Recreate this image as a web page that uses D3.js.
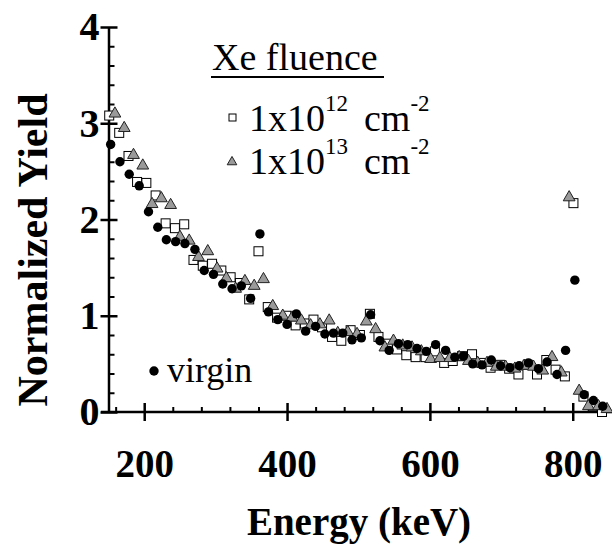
<!DOCTYPE html>
<html>
<head>
<meta charset="utf-8">
<script src="https://cdn.jsdelivr.net/npm/d3@7"></script>
<style>
  body { margin: 0; background: #fff; }
  svg { display: block; }
</style>
</head>
<body>
<div id="chart"></div>
<script>
// energies (keV) and normalized yields
var virginE = [153,166,179,193,206,219,231,244,257,271,284,297,310,323,336,349,362,374,387,400,413,426,440,453,465,478,491,504,517,530,543,556,569,582,595,608,622,635,647,660,673,686,699,712,725,738,752,764,778,790,803,816,829,842];
var virginY = [2.78,2.60,2.47,2.35,2.08,1.92,1.79,1.77,1.75,1.69,1.47,1.43,1.33,1.28,1.31,1.18,1.85,1.04,0.96,0.91,1.02,0.84,0.89,0.81,0.82,0.82,0.75,0.77,1.01,0.74,0.64,0.71,0.70,0.66,0.63,0.70,0.64,0.57,0.58,0.50,0.49,0.54,0.48,0.46,0.48,0.51,0.45,0.52,0.39,0.64,1.37,0.18,0.12,0.06];

var e12E = [151,165,178,190,203,216,230,243,256,269,282,295,308,321,334,347,360,373,386,399,412,425,437,449,463,476,489,502,516,528,541,554,567,580,594,607,620,632,645,659,672,685,698,711,724,737,750,763,776,789,801,815,828,841];
var e12Y = [3.08,2.90,2.66,2.39,2.38,2.25,1.96,1.91,1.95,1.58,1.52,1.54,1.47,1.40,1.34,1.17,1.67,1.09,0.98,1.00,0.90,0.92,0.96,0.88,0.78,0.74,0.85,0.80,1.02,0.78,0.71,0.65,0.59,0.57,0.57,0.63,0.51,0.53,0.58,0.60,0.51,0.46,0.49,0.45,0.39,0.49,0.39,0.54,0.44,0.37,2.17,0.16,0.06,0.00];

var e13E = [159,172,185,198,211,224,237,250,263,276,289,302,315,328,341,354,367,380,394,407,420,433,446,459,471,485,498,511,524,537,549,562,575,588,601,614,628,641,654,667,680,693,706,719,732,745,758,771,784,795,809,822,836,848];
var e13Y = [3.11,2.96,2.68,2.57,2.17,2.23,2.16,1.83,1.79,1.62,1.68,1.50,1.40,1.29,1.37,1.32,1.39,1.11,1.01,0.99,0.96,0.91,0.92,0.96,0.83,0.84,0.82,0.95,0.87,0.68,0.75,0.70,0.68,0.64,0.56,0.57,0.57,0.58,0.54,0.52,0.52,0.48,0.48,0.46,0.49,0.48,0.44,0.58,0.42,2.24,0.23,0.07,0.07,0.04];

var xTicks = [200,400,600,800];
var yTicks = [0,1,2,3,4];

var width = 612, height = 552;
var serif = "'Liberation Serif','Times New Roman',serif";

var svg = d3.select("#chart").append("svg")
  .attr("width", width)
  .attr("height", height)
  .style("font-family", serif);

var x = d3.scaleLinear().domain([150, 855]).range([108.5, 612]);
var y = d3.scaleLinear().domain([0, 4]).range([412, 27]);

var xMinor = d3.range(160, 855, 40).filter(function(d) { return d % 200 !== 0; });
var yMinor = d3.range(0, 4.01, 0.2).filter(function(d) { return Math.abs(d - Math.round(d)) > 0.01; });

// x axis: minor ticks inside, major ticks crossing
svg.append("g")
  .attr("transform", "translate(0," + y(0) + ")")
  .call(d3.axisBottom(x).tickValues(xMinor).tickSize(-5).tickFormat(""))
  .call(function(g) { g.select(".domain").remove(); })
  .selectAll("line").attr("stroke-width", 2);

var xAxis = svg.append("g")
  .attr("transform", "translate(0," + y(0) + ")")
  .call(d3.axisBottom(x).tickValues(xTicks).tickSize(9).tickSizeOuter(0).tickPadding(28).tickFormat(d3.format("d")));
xAxis.select(".domain").attr("stroke-width", 2.5).attr("d", "M101,0H612");
xAxis.selectAll("line").attr("y1", -9).attr("stroke-width", 2.5);
xAxis.selectAll("text")
  .style("font-family", serif).style("font-weight", "bold").style("font-size", "39px")
  .attr("fill", "#000");

// y axis
svg.append("g")
  .attr("transform", "translate(" + x(150) + ",0)")
  .call(d3.axisLeft(y).tickValues(yMinor).tickSize(-6).tickFormat(""))
  .call(function(g) { g.select(".domain").remove(); })
  .selectAll("line").attr("stroke-width", 2);

var yAxis = svg.append("g")
  .attr("transform", "translate(" + x(150) + ",0)")
  .call(d3.axisLeft(y).tickValues(yTicks).tickSize(8).tickSizeOuter(0).tickPadding(1).tickFormat(d3.format("d")));
yAxis.select(".domain").attr("stroke-width", 2.5);
yAxis.selectAll("line").attr("x1", 9).attr("stroke-width", 2.5);
yAxis.selectAll("text")
  .style("font-family", serif).style("font-weight", "bold").style("font-size", "40px")
  .attr("fill", "#000");

// axis titles
svg.append("text")
  .attr("x", 359).attr("y", 535)
  .attr("text-anchor", "middle")
  .style("font-weight", "bold").style("font-size", "39px")
  .text("Energy (keV)");

svg.append("text")
  .attr("transform", "translate(47,250) rotate(-90)")
  .attr("text-anchor", "middle")
  .style("font-weight", "bold").style("font-size", "42px")
  .text("Normalized Yield");

// data marks
var plot = svg.append("g");
var tri = d3.symbol().type(d3.symbolTriangle).size(60);

plot.selectAll(".sq")
  .data(d3.zip(e12E, e12Y))
  .enter().append("rect")
  .attr("x", function(d) { return x(d[0]) - 4.5; })
  .attr("y", function(d) { return y(d[1]) - 4.5; })
  .attr("width", 9).attr("height", 9)
  .attr("fill", "#fff").attr("stroke", "#000").attr("stroke-width", 1);

plot.selectAll(".tri")
  .data(d3.zip(e13E, e13Y))
  .enter().append("path")
  .attr("d", tri)
  .attr("transform", function(d) { return "translate(" + x(d[0]) + "," + (y(d[1]) + 1) + ")"; })
  .attr("fill", "#9a9a9a").attr("stroke", "#222").attr("stroke-width", 1);

plot.selectAll(".dot")
  .data(d3.zip(virginE, virginY))
  .enter().append("circle")
  .attr("cx", function(d) { return x(d[0]); })
  .attr("cy", function(d) { return y(d[1]); })
  .attr("r", 4.7)
  .attr("fill", "#000");

// legend
var leg = svg.append("g");
leg.append("text")
  .attr("x", 212).attr("y", 70)
  .style("font-size", "38px")
  .text("Xe fluence");
leg.append("line")
  .attr("x1", 211).attr("x2", 384).attr("y1", 77).attr("y2", 77)
  .attr("stroke", "#000").attr("stroke-width", 2);

var rows = [
  { exp: "12", base: 131 },
  { exp: "13", base: 174 }
];
rows.forEach(function(r) {
  var t = leg.append("text").attr("x", 249).attr("y", r.base).style("font-size", "38px");
  t.append("tspan").text("1x10");
  t.append("tspan").attr("dy", -20).style("font-size", "23px").text(r.exp);
  var c = leg.append("text").attr("x", 364).attr("y", r.base).style("font-size", "38px");
  c.append("tspan").text("cm");
  c.append("tspan").attr("dy", -20).style("font-size", "23px").text("-2");
});
leg.append("rect")
  .attr("x", 229).attr("y", 114).attr("width", 7).attr("height", 7)
  .attr("fill", "#fff").attr("stroke", "#000").attr("stroke-width", 1);
leg.append("path")
  .attr("d", d3.symbol().type(d3.symbolTriangle).size(40))
  .attr("transform", "translate(232,162)")
  .attr("fill", "#9a9a9a").attr("stroke", "#222").attr("stroke-width", 1);

leg.append("circle").attr("cx", 154).attr("cy", 371).attr("r", 4.7).attr("fill", "#000");
leg.append("text")
  .attr("x", 167).attr("y", 382)
  .style("font-size", "36px")
  .text("virgin");
</script>
</body>
</html>
